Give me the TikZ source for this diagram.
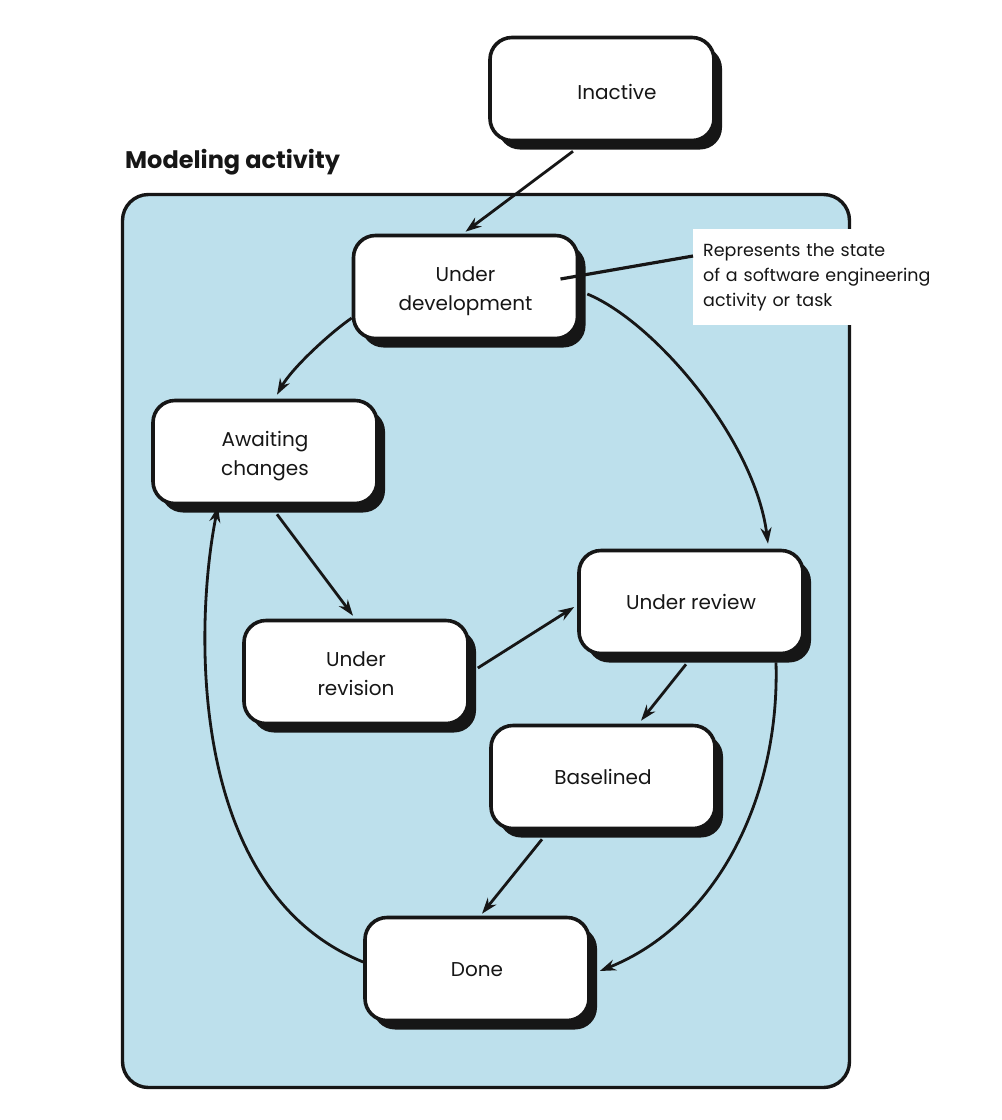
\documentclass[tikz,border=0pt]{standalone}
\usepackage{fontspec}
\setmainfont{Poppins}
\usetikzlibrary{arrows.meta,shadows,calc}
\definecolor{panelblue}{RGB}{189,224,236}
\definecolor{ink}{RGB}{22,22,22}
\newcommand{\lowtext}[2][4pt]{\raisebox{-#1}[\height][\depth]{\begin{tabular}{@{}c@{}}#2\end{tabular}}}
\begin{document}
\begin{tikzpicture}[x=1pt,y=-1pt,
  statebox/.style={draw=ink, line width=3.6pt, fill=white, rounded corners=22pt,
    minimum width=224pt, minimum height=103pt, align=center, text=ink,
    font=\fontsize{20}{29}\selectfont,
    drop shadow={shadow xshift=8pt, shadow yshift=-9pt, fill=ink, opacity=1}},
  arr/.style={draw=ink, line width=2.8pt, -{Stealth[length=16pt,width=11pt]}},
  leader/.style={draw=ink, line width=3.2pt}]
\useasboundingbox (0,0) rectangle (1002,1120);

% container
\node[draw=ink, line width=3.4pt, fill=panelblue, rounded corners=26pt,
      minimum width=727pt, minimum height=893pt] (frame) at (486,641) {};
\node[anchor=base west, font=\fontsize{24}{28}\selectfont\bfseries, text=ink,
      inner sep=0pt] (title) at (125,168) {Modeling activity};

% annotation
\node[anchor=north west, fill=white, inner xsep=10pt, inner ysep=9pt,
      text width=240pt, minimum height=96pt, align=left, text=ink,
      font=\fontsize{17.5}{25}\selectfont] (note) at (693,229)
  {Represents the state\\ of a software engineering\\ activity or task};

% states
\node[statebox] (inactive) at (602,89) {\hspace*{30pt}\lowtext[5pt]{Inactive}};
\node[statebox] (dev) at (465.5,287) {\lowtext[3pt]{Under\\ development}};
\node[statebox] (await) at (265,452) {\lowtext[3pt]{Awaiting\\ changes}};
\node[statebox] (review) at (691,602) {\lowtext[2pt]{Under review}};
\node[statebox] (revision) at (356,672) {\lowtext[3pt]{Under\\ revision}};
\node[statebox] (base) at (603,777) {\lowtext[2pt]{Baselined}};
\node[statebox] (done) at (477,969) {\lowtext[2pt]{Done}};

% leader line
\coordinate (ldstart) at ($(dev.center)+(95,-8)$);
\draw[leader] (ldstart) -- (note.west |- 0,256);

% transitions
\draw[arr] ($(inactive.south)+(-29,9)$) -- ($(dev.north)+(0,-2)$);
\draw[arr] ($(dev.west)+(0,31)$) .. controls (330,333) and (292,368) .. ($(await.north)+(12,-4)$);
\draw[arr] ($(dev.east)+(8,7)$) .. controls (655,322) and (755,440) .. ($(review.north)+(77,-5)$);
\draw[arr] ($(await.south)+(12,9)$) -- ($(revision.north)+(-3,-3)$);
\draw[arr] ($(revision.east)+(8,-4)$) -- ($(review.west)+(-3,5)$);
\draw[arr] ($(review.south)+(-5,9)$) -- ($(base.north)+(38,-3)$);
\draw[arr] ($(base.south)+(-61,9)$) -- ($(done.north)+(5,-2)$);
\draw[arr] ($(review.south)+(85,7)$) .. controls (780,800) and (715,925) .. ($(done.east)+(9,2)$);
\draw[arr] ($(done.west)+(0,-7)$) .. controls (185,890) and (195,620) .. ($(await.south)+(-47,1)$);
\end{tikzpicture}
\end{document}
